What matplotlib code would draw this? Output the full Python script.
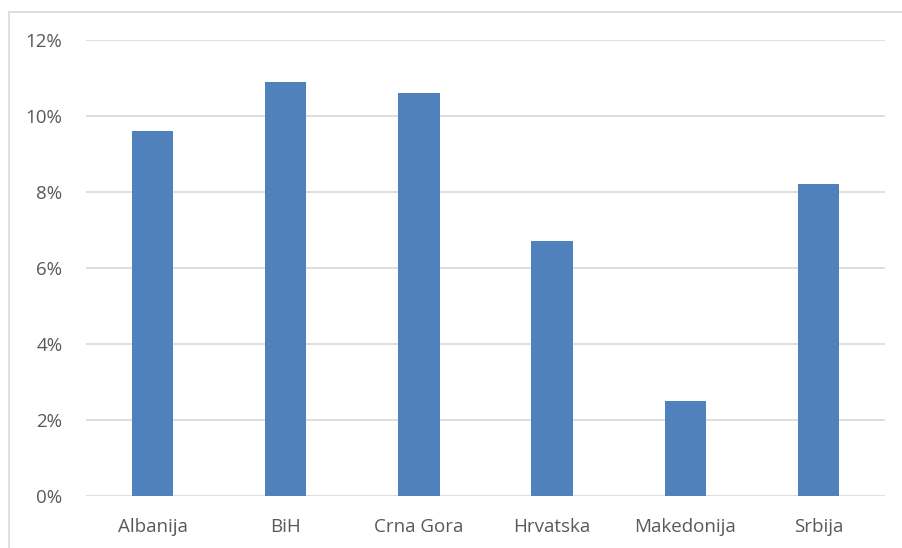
import matplotlib.pyplot as plt
from matplotlib.patches import Rectangle
from matplotlib.ticker import FuncFormatter

countries = ['Albanija', 'BiH', 'Crna Gora', 'Hrvatska', 'Makedonija', 'Srbija']
values = [9.6, 10.9, 10.6, 6.7, 2.5, 8.2]
y_ticks = [0, 2, 4, 6, 8, 10, 12]

plt.rcParams['font.family'] = ['Open Sans', 'DejaVu Sans']

fig = plt.figure(figsize=(9.02, 5.48), dpi=100)
ax = fig.add_axes([86 / 902, 1 - 496 / 548, 799 / 902, 456 / 548])

# outer chart border (Excel style)
fig.patches.append(Rectangle((9 / 902, -0.05), 1.1, 1 - 12 / 548 + 0.05,
                             transform=fig.transFigure, fill=False,
                             edgecolor='#d9d9d9', linewidth=1.2))

ax.bar(range(len(countries)), values, width=0.31, color='#4f81bd', zorder=3)

ax.set_xlim(-0.5, len(countries) - 0.5)
ax.set_ylim(0, 12)
ax.set_yticks(y_ticks)
ax.yaxis.set_major_formatter(FuncFormatter(lambda v, p: f'{v:.0f}%'))
ax.set_xticks(range(len(countries)))
ax.set_xticklabels(countries)

ax.grid(axis='y', color='#d9d9d9', linewidth=1.2, zorder=0)
for s in ax.spines.values():
    s.set_visible(False)
ax.tick_params(axis='both', length=0, labelsize=13.5, labelcolor='#595959')
ax.tick_params(axis='y', pad=17)
ax.tick_params(axis='x', pad=16)

fig.savefig('out.png', dpi=100)
